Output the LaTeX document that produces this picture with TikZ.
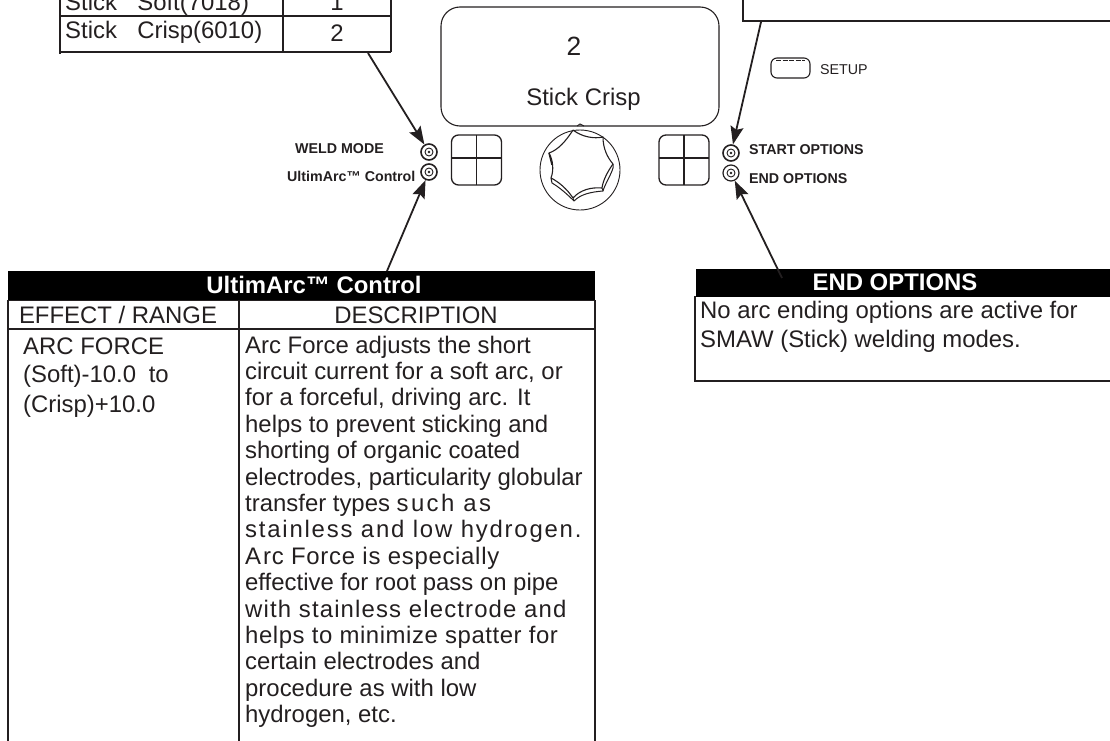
\documentclass[tikz,border=0pt]{standalone}
\usepackage{fontspec}
\setmainfont{Liberation Sans}
\usetikzlibrary{arrows.meta}
\definecolor{ink}{HTML}{231F20}
\tikzset{
 x=1bp,y=-1bp,
 rule/.style={draw=ink,line width=1.5bp},
 body/.style={inner sep=0pt,anchor=base west,text=ink,font=\fontsize{24}{24}\selectfont},
 bodyc/.style={inner sep=0pt,anchor=base,text=ink,font=\fontsize{24}{24}\selectfont},
 lab/.style={inner sep=0pt,anchor=base west,text=ink,font=\fontsize{14.3}{14.3}\selectfont\bfseries},
 bar/.style={fill=black,draw=none,inner sep=0pt,anchor=north west},
 bartext/.style={inner sep=0pt,anchor=base,text=white,font=\fontsize{24}{24}\selectfont\bfseries},
 arrow/.style={draw=ink,line width=1.8bp,-{Stealth[length=18bp,width=13bp,inset=3bp]}},
 led/.style={draw=ink,line width=1.6bp,circle,minimum size=16bp,inner sep=0pt,fill=white},
}
\newcommand{\ledmark}[1]{\fill[ink] (#1) circle (1.4bp);\draw[ink,line width=.9bp] (#1) circle (4bp);}
\newcommand{\crossbox}[1]{\draw[ink,line width=1.3bp,rounded corners=7bp] (#1) ++(-25,-25) rectangle ++(50,50);\draw[ink,line width=1.1bp] (#1) ++(0,-25) -- ++(0,50);\draw[ink,line width=1.1bp] (#1) ++(-25,-2) -- ++(50,0);}
\newcommand{\lsp}[2]{{\addfontfeature{LetterSpace=#1}#2}}
\begin{document}
\begin{tikzpicture}
\useasboundingbox (0,0) rectangle (1110,741);
\clip (0,0) rectangle (1110,741);
% top left table
\draw[rule,line width=2.4bp] (60,-5) -- (60,54);
\draw[rule] (60,16) -- (391,16);
\draw[rule] (60,52) -- (391,52);
\draw[rule] (283,-5) -- (283,52);
\draw[rule] (391,-5) -- (391,52);
\node[body] (s1) at (65,11) {Stick\hspace{.85em}Soft(7018)};
\node[body] (s2) at (65,39) {Stick\hspace{.85em}Crisp(6010)};
\node[bodyc] (n1) at (337,11) {1};
\node[bodyc] (n2) at (337,42) {2};
\coordinate (tblA) at (368,53);
% top right box
\draw[rule] (743,-5) -- (743,21) -- (1115,21);
\coordinate (boxA) at (761,22);
% display
\draw[ink,line width=1.1bp,rounded corners=19bp] (441,7) rectangle (719,126);
\node[inner sep=0pt,anchor=base,text=ink,font=\fontsize{26.5}{26.5}\selectfont] (dn) at (574,56) {2};
\node[inner sep=0pt,anchor=base,text=ink,font=\fontsize{24}{24}\selectfont] (dt) at (583.5,106) {Stick Crisp};
% setup
\draw[ink,line width=1.1bp,rounded corners=6bp] (771,58) rectangle (810,78);
\draw[ink,line width=.7bp,dash pattern=on 5bp off 1.5bp] (776,60) -- (805,60);
\node[inner sep=0pt,anchor=base west,text=ink,font=\fontsize{14.3}{14.3}\selectfont] (su) at (820,75) {SETUP};
% labels
\node[lab] (wm) at (295,153) {WELD MODE};
\node[lab] (uc) at (287,181) {UltimArc™ Control};
\node[lab] (so) at (749,154) {START OPTIONS};
\node[lab] (eo) at (749,183) {END OPTIONS};
% leds
\node[led] (l1) at (429,152) {}; \ledmark{429,152}
\node[led] (l2) at (429,172) {}; \ledmark{429,172}
\node[led] (r1) at (731,153) {}; \ledmark{731,153}
\node[led,line width=1.2bp] (r2) at (731,173) {}; \ledmark{731,173}
% crosses
\crossbox{476.5,160}
\crossbox{684,160}
% knob
\node[draw=ink,line width=.9bp,circle,minimum size=80bp,inner sep=0pt] (knob) at (580,170) {};
\draw[ink,line width=1.1bp,line join=round] (573,130)
 .. controls (582,137) and (594,139) .. (603,137)
 .. controls (603,148) and (607,157) .. (613,164)
 .. controls (608,171) and (603,180) .. (602,188)
 .. controls (591,187) and (580,190) .. (573,198)
 .. controls (567,189) and (559,182) .. (551,178)
 .. controls (554,170) and (553,160) .. (549,153)
 .. controls (558,150) and (566,141) .. (573,130);
\draw[ink,line width=1bp,line join=round] (551,178) -- (552,183)
 .. controls (559,187) and (567,194) .. (574,201)
 .. controls (581,194) and (591,192) .. (603,191)
 .. controls (605,184) and (611,175) .. (613,168) -- (613,164);
\draw[ink,line width=.8bp] (573,198) -- (574,201) (602,188) -- (603,191);
\draw[ink,line width=1.4bp] (549,153) -- (552,165);
\draw[ink,line width=.9bp] (577,126) -- (580,124) -- (584,126);
% UltimArc table
\node[bar,minimum width=587bp,minimum height=29bp] (ubar) at (8,271) {};
\node[bartext] (ut) at (314,293) {UltimArc™ Control};
\draw[rule] (8,300.5) -- (595,300.5) (8,329) -- (595,329);
\draw[rule] (8,300) -- (8,746) (595,300) -- (595,746) (239,300) -- (239,746);
\node[bodyc] (er) at (118,323) {EFFECT / RANGE};
\node[bodyc] (de) at (416,323) {DESCRIPTION};
\node[body] (a1) at (23,354) {ARC FORCE};
\node[body] (a2) at (23,382) {(Soft)-10.0\hspace{.25em} to};
\node[body] (a3) at (23,412) {(Crisp)+10.0};
\node[body] (d1) at (245,353) {Arc Force adjusts the short};
\node[body] (d2) at (245,379.4) {circuit current for a soft arc, or};
\node[body] (d3) at (245,405.8) {for a forceful, driving arc. It};
\node[body] (d4) at (245,432.2) {helps to prevent sticking and};
\node[body] (d5) at (245,458.6) {shorting of organic coated};
\node[body] (d6) at (245,485) {electrodes, particularity globular};
\node[body] (d7) at (245,511.4) {transfer types \lsp{10}{such as}};
\node[body] (d8) at (245,537.8) {\lsp{7.5}{stainless and low hydrogen.}};
\node[body] (d9) at (245,564.2) {\lsp{3}{A\hspace{2bp}rc Force is especially}};
\node[body] (d10) at (245,590.6) {effective for root pass on pipe};
\node[body] (d11) at (245,617) {\lsp{4.8}{with stainless electrode and}};
\node[body] (d12) at (245,643.4) {\lsp{2.4}{helps to minimize spatter for}};
\node[body] (d13) at (245,669.8) {certain electrodes and};
\node[body] (d14) at (245,696.2) {procedure as with low};
\node[body] (d15) at (245,722.6) {hydrogen, etc.};
% END OPTIONS
\node[bar,minimum width=420bp,minimum height=28bp] (ebar) at (696,269) {};
\node[bartext] (et) at (895,290) {END OPTIONS};
\draw[rule] (695,296) -- (695,381) -- (1115,381);
\node[body] (e1) at (700,318) {No arc ending options are active for};
\node[body] (e2) at (700,347) {SMAW (Stick) welding modes.};
\coordinate (ubarA) at (387,271);
\coordinate (ebarA) at (782,278);
% arrows
\draw[arrow] (tblA) -- (l1);
\draw[arrow] (boxA) -- (r1);
\draw[arrow] (ubarA) -- (l2);
\draw[arrow] (ebarA) -- (r2);
\end{tikzpicture}
\end{document}
